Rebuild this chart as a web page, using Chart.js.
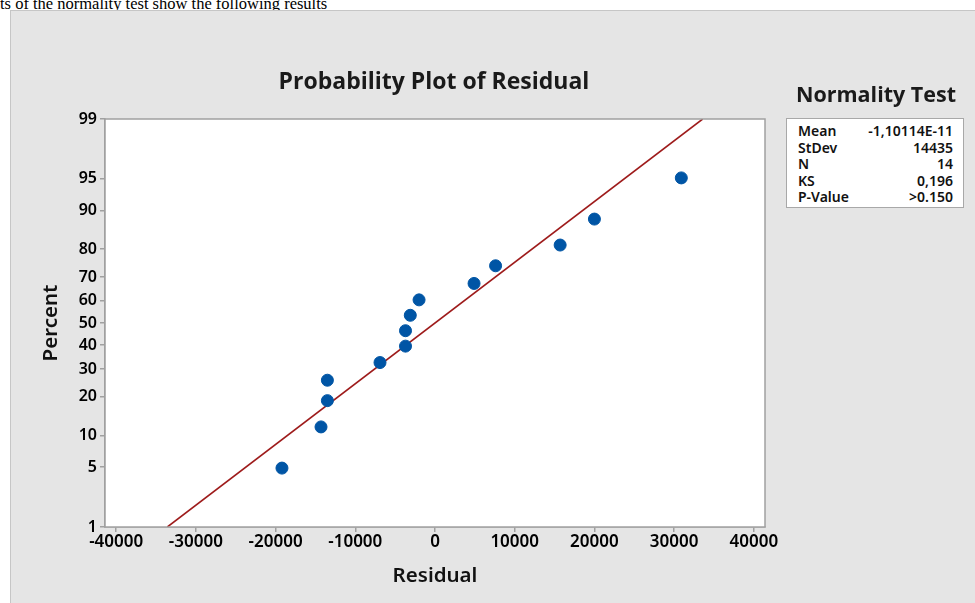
<!DOCTYPE html>
<html>
<head>
<meta charset="utf-8">
<script src="https://cdn.jsdelivr.net/npm/chart.js@4/dist/chart.umd.min.js"></script>
<style>
  html,body{margin:0;padding:0;background:#fff;}
  body{width:975px;height:603px;overflow:hidden;position:relative;font-family:"Open Sans","Noto Sans",sans-serif;}
  #doc{position:absolute;left:0;top:-4.5px;font:16.5px "Liberation Serif","Times New Roman",serif;line-height:16.5px;color:#000;white-space:nowrap;}
  #panel{position:absolute;left:10px;top:10px;width:980px;height:600px;background:#e5e5e5;border:1px solid #c6c6c6;}
  #c{position:absolute;left:0;top:0;}
  #title{position:absolute;left:134px;width:600px;top:66px;line-height:28px;text-align:center;font-weight:700;font-size:23px;color:#1a1a1a;}
  #ltitle{position:absolute;left:786px;width:180px;top:80px;line-height:28px;text-align:center;font-weight:700;font-size:21.5px;color:#1a1a1a;}
  #lbox{position:absolute;left:786px;top:118px;width:178px;height:90px;background:#fff;border:1px solid #a8a8a8;box-sizing:border-box;padding:4px 10px 0 11px;}
  .row{display:flex;justify-content:space-between;height:16.6px;line-height:16.6px;font-family:"Noto Sans","Open Sans",sans-serif;font-size:14px;font-weight:600;color:#111;}
</style>
</head>
<body>
<div id="doc">ts of the normality test show the following results</div>
<div id="panel"></div>
<canvas id="c" width="975" height="603"></canvas>
<div id="title">Probability Plot of Residual</div>
<div id="ltitle">Normality Test</div>
<div id="lbox"></div>
<script>
// ---- data ----
const residuals = [-19200, -14300, -13500, -13500, -6900, -3700, -3700, -3100, -2000, 4900, 7600, 15700, 20000, 30900];
const percents  = [4.9, 11.8, 18.8, 25.7, 32.6, 39.6, 46.5, 53.5, 60.4, 67.4, 74.3, 81.3, 88.2, 95.1];
const fitLineX  = [-33580, 33580];
const fitLineP  = [1, 99];
const percentTicks = [1, 5, 10, 20, 30, 40, 50, 60, 70, 80, 90, 95, 99];
const residualTicks = [-40000, -30000, -20000, -10000, 0, 10000, 20000, 30000, 40000];
const statLabels = ["Mean", "StDev", "N", "KS", "P-Value"];
const statValues = ["-1,10114E-11", "14435", "14", "0,196", ">0.150"];

// legend table
const lbox = document.getElementById('lbox');
statLabels.forEach((l, i) => {
  const r = document.createElement('div');
  r.className = 'row';
  const a = document.createElement('span'); a.textContent = l;
  const b = document.createElement('span'); b.textContent = statValues[i];
  r.appendChild(a); r.appendChild(b); lbox.appendChild(r);
});

// inverse normal CDF (probability-scale transform)
function probit(p){
  const a=[-3.969683028665376e+01,2.209460984245205e+02,-2.759285104469687e+02,1.383577518672690e+02,-3.066479806614716e+01,2.506628277459239e+00];
  const b=[-5.447609879822406e+01,1.615858368580409e+02,-1.556989798598866e+02,6.680131188771972e+01,-1.328068155288572e+01];
  const c=[-7.784894002430293e-03,-3.223964580411365e-01,-2.400758277161838e+00,-2.549732539343734e+00,4.374664141464968e+00,2.938163982698783e+00];
  const d=[7.784695709041462e-03,3.224671290700398e-01,2.445134137142996e+00,3.754408661907416e+00];
  const pl=0.02425, ph=1-pl; let q,r;
  if(p<pl){q=Math.sqrt(-2*Math.log(p));return (((((c[0]*q+c[1])*q+c[2])*q+c[3])*q+c[4])*q+c[5])/((((d[0]*q+d[1])*q+d[2])*q+d[3])*q+1);}
  if(p<=ph){q=p-0.5;r=q*q;return (((((a[0]*r+a[1])*r+a[2])*r+a[3])*r+a[4])*r+a[5])*q/(((((b[0]*r+b[1])*r+b[2])*r+b[3])*r+b[4])*r+1);}
  q=Math.sqrt(-2*Math.log(1-p));return -(((((c[0]*q+c[1])*q+c[2])*q+c[3])*q+c[4])*q+c[5])/((((d[0]*q+d[1])*q+d[2])*q+d[3])*q+1);
}
const z = p => probit(p/100);

const axisGray = '#a0a0a0';
const labelFont = '"Noto Sans", "Open Sans", sans-serif';
const frame = {
  id: 'frame',
  beforeDatasetsDraw(chart){
    const {ctx, chartArea:{left,top,right,bottom}} = chart;
    ctx.save();
    ctx.fillStyle = '#fff';
    ctx.fillRect(left, top, right-left, bottom-top);
    ctx.restore();
  },
  afterDraw(chart){
    const {ctx, chartArea:{left,top,right,bottom}} = chart;
    ctx.save();
    ctx.strokeStyle = axisGray; ctx.lineWidth = 1.5;
    ctx.strokeRect(left, top, right-left, bottom-top);
    ctx.restore();
  }
};

new Chart(document.getElementById('c'), {
  type: 'scatter',
  data: {
    datasets: [
      {
        type: 'line',
        data: fitLineX.map((x,i)=>({x, y: z(fitLineP[i])})),
        borderColor: '#9e1b1b', borderWidth: 1.6, pointRadius: 0, fill: false, order: 2
      },
      {
        data: residuals.map((x,i)=>({x, y: z(percents[i])})),
        backgroundColor: '#0055a5', borderColor: '#0055a5', pointRadius: 6, pointHoverRadius: 6, order: 1
      }
    ]
  },
  plugins: [frame],
  options: {
    responsive: false, animation: false, devicePixelRatio: 1,
    layout: { padding: { left: 20, right: 210, top: 119, bottom: 0 } },
    plugins: { legend: { display: false }, title: { display: false }, tooltip: { enabled: false } },
    scales: {
      x: {
        type: 'linear', min: -41400, max: 41400,
        afterFit(s){ s.height = 76; },
        afterBuildTicks(s){ s.ticks = residualTicks.map(v=>({value:v})); },
        ticks: { color: '#000', font: { family: labelFont, size: 17, weight: '600' }, padding: 0, maxRotation: 0, autoSkip: false,
                 callback: v => String(v) },
        grid: { display: true, drawOnChartArea: false, drawTicks: true, tickLength: 5, color: axisGray, lineWidth: 1.5 },
        border: { display: true, color: axisGray, width: 1.5 },
        title: { display: true, text: 'Residual', color: '#111', font: { family: labelFont, size: 20.5, weight: '600' }, padding: { top: 0, bottom: 15 } }
      },
      y: {
        type: 'linear', min: z(1), max: z(99),
        afterFit(s){ s.width = 85; },
        afterBuildTicks(s){ s.ticks = percentTicks.map(p=>({value: z(p)})); },
        ticks: { color: '#000', font: { family: labelFont, size: 16, weight: '600' }, padding: 3, autoSkip: false,
                 callback: (v, i) => String(percentTicks[i]) },
        grid: { display: true, drawOnChartArea: false, drawTicks: true, tickLength: 5, color: axisGray, lineWidth: 1.5 },
        border: { display: true, color: axisGray, width: 1.5 },
        title: { display: true, text: 'Percent', color: '#111', font: { family: labelFont, size: 20.5, weight: '600' }, padding: { top: 19, bottom: 0 } }
      }
    }
  }
});
</script>
</body>
</html>
